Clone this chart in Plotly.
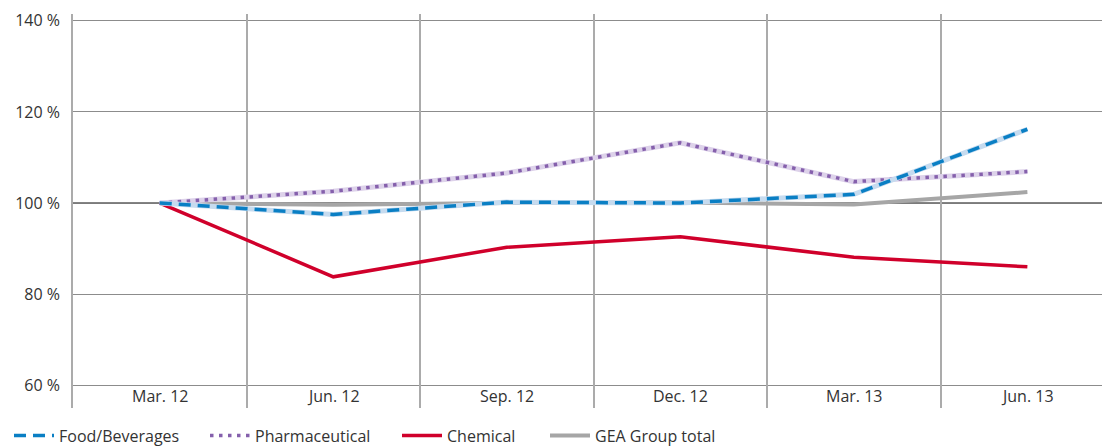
import plotly.graph_objects as go

# Quarterly order intake by customer industry, indexed to Mar. 12 = 100 %
quarters = ["Mar. 12", "Jun. 12", "Sep. 12", "Dec. 12", "Mar. 13", "Jun. 13"]
food_beverages = [100.0, 97.5, 100.2, 100.0, 101.9, 116.2]
pharmaceutical = [100.0, 102.6, 106.6, 113.2, 104.7, 106.9]
chemical = [100.0, 83.8, 90.3, 92.6, 88.1, 86.0]
gea_group_total = [100.0, 99.6, 100.0, 100.1, 99.7, 102.4]

y_ticks = [60, 80, 100, 120, 140]
y_tick_labels = ["60 %", "80 %", "100 %", "120 %", "140 %"]
baseline = 100
grid_levels = [v for v in y_ticks if v != baseline]

x = list(range(len(quarters)))
FONT = "Open Sans"
TEXT = "#333333"
SIZE = 16

fig = go.Figure()

# GEA Group total
fig.add_trace(go.Scatter(
    x=x, y=gea_group_total, mode="lines", name="GEA Group total",
    line=dict(color="#a6a6a6", width=4), legend="legend4"))

# Chemical
fig.add_trace(go.Scatter(
    x=x, y=chemical, mode="lines", name="Chemical",
    line=dict(color="#d0002b", width=3.5), legend="legend3"))

# Pharmaceutical: pale band with purple dots on top
fig.add_trace(go.Scatter(
    x=x, y=pharmaceutical, mode="lines", showlegend=False, hoverinfo="skip",
    line=dict(color="#ddd2ea", width=5)))
fig.add_trace(go.Scatter(
    x=x, y=pharmaceutical, mode="lines", name="Pharmaceutical",
    line=dict(color="#8560ac", width=3.5, dash="3.5px,5.5px"), legend="legend2"))

# Food/Beverages: pale blue band with blue dashes on top
fig.add_trace(go.Scatter(
    x=x, y=food_beverages, mode="lines", showlegend=False, hoverinfo="skip",
    line=dict(color="#c6dbef", width=5)))
fig.add_trace(go.Scatter(
    x=x, y=food_beverages, mode="lines", name="Food/Beverages",
    line=dict(color="#0a7fc4", width=3.5, dash="12px,7px"), legend="legend"))

# Category labels sit inside the plot, below the 60 % line
for i, q in enumerate(quarters):
    fig.add_annotation(x=i, y=57.6, text=q, showarrow=False,
                       font=dict(family=FONT, size=SIZE, color=TEXT),
                       xanchor="center", yanchor="middle")

# 100 % reference line, under the series
fig.add_shape(type="line", xref="paper", x0=0, x1=1, yref="y",
              y0=baseline, y1=baseline, line=dict(color="#000000", width=1),
              layer="between")

legend_common = dict(orientation="h", xref="container", yref="container",
                     yanchor="middle", y=1 - 435.5 / 446, xanchor="left",
                     itemwidth=40, bgcolor="rgba(0,0,0,0)",
                     font=dict(family=FONT, size=SIZE, color=TEXT))

fig.update_layout(
    width=1102, height=446,
    margin=dict(l=73, r=0, t=14, b=38),
    paper_bgcolor="white", plot_bgcolor="white",
    font=dict(family=FONT, size=SIZE, color=TEXT),
    xaxis=dict(range=[-0.5, 5.43], tickvals=[i - 0.5 for i in x],
               showticklabels=False, ticks="", showgrid=True,
               gridcolor="#ababab", gridwidth=1.5, zeroline=False,
               showline=False),
    yaxis=dict(range=[55, 141.5], tickvals=y_ticks, ticktext=y_tick_labels,
               showgrid=False, zeroline=False, showline=True,
               linecolor="#ababab", linewidth=1.5, ticks="",
               ticklabelstandoff=8,
               tickfont=dict(family=FONT, size=SIZE, color=TEXT),
               minor=dict(tickvals=grid_levels, showgrid=True,
                          gridcolor="#8c8c8c", gridwidth=1, ticks="")),
    legend=dict(legend_common, x=9 / 1102),
    legend2=dict(legend_common, x=205 / 1102),
    legend3=dict(legend_common, x=397 / 1102),
    legend4=dict(legend_common, x=545 / 1102),
    showlegend=True,
)

fig.write_html("out.html")
